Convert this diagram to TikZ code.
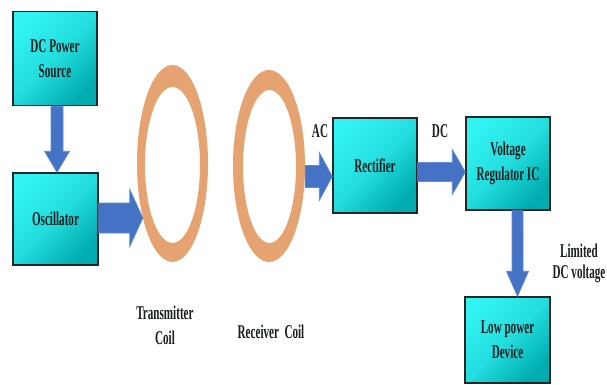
\documentclass[tikz,border=0pt]{standalone}
\usepackage{fontspec}
\setmainfont{Liberation Serif}[FakeStretch=0.57]
\usetikzlibrary{calc,shapes.geometric}
\definecolor{boxlight}{RGB}{50,242,242}
\definecolor{boxdark}{RGB}{0,172,175}
\definecolor{arrowfill}{RGB}{68,114,196}
\definecolor{arrowedge}{RGB}{95,140,210}
\definecolor{coilcol}{RGB}{228,163,112}
\definecolor{txtcol}{RGB}{25,30,30}
\tikzset{
  blockbox/.style={draw=black!85, line width=1.5pt, top color=boxlight, bottom color=boxdark,
    middle color=boxlight!70!boxdark, shading angle=45, inner sep=0pt,
    font=\fontsize{19.5}{25}\selectfont\bfseries, text=txtcol, align=center},
  blockarrow/.style={fill=arrowfill, draw=arrowedge, line width=0.8pt, line join=miter},
  coilring/.style={fill=coilcol, even odd rule},
  lbl/.style={font=\fontsize{19.5}{25}\selectfont\bfseries, text=txtcol, align=center, inner sep=0pt},
  coilnode/.style={ellipse, inner sep=0pt}
}
\newcommand\harrowshape[5]{\filldraw[blockarrow] let \p1=(#1),\p2=(#2) in
  (\x1,\y1+#3) -- (\x2-#5,\y1+#3) -- (\x2-#5,\y1+#4) -- (\x2,\y1) --
  (\x2-#5,\y1-#4) -- (\x2-#5,\y1-#3) -- (\x1,\y1-#3) -- cycle;}
\newcommand\varrowshape[5]{\filldraw[blockarrow] let \p1=(#1),\p2=(#2) in
  (\x1+#3,\y1) -- (\x1+#3,\y2+#5) -- (\x1+#4,\y2+#5) -- (\x1,\y2) --
  (\x1-#4,\y2+#5) -- (\x1-#3,\y2+#5) -- (\x1-#3,\y1) -- cycle;}
\begin{document}
\begin{tikzpicture}[x=1pt,y=-1pt]
\useasboundingbox[fill=white] (0,0) rectangle (607,385);
% boxes
\node[blockbox, minimum width=84pt, minimum height=94pt] (dc) at (55,58.5) {DC Power\\Source};
\node[blockbox, minimum width=85pt, minimum height=92pt] (osc) at (55.5,219) {Oscillator};
\node[blockbox, minimum width=84pt, minimum height=95pt] (rect) at (375,165.5) {Rectifier};
\node[blockbox, minimum width=84pt, minimum height=93pt] (reg) at (508,163.5) {Voltage\\Regulator IC};
\node[blockbox, minimum width=85pt, minimum height=86pt] (low) at (507.5,340) {Low power\\Device};
% coils
\node[coilnode, minimum width=71pt, minimum height=197pt] (tx) at (172.5,163.5) {};
\node[coilnode, minimum width=72pt, minimum height=192pt] (rx) at (269,166) {};
\fill[coilring] (tx.center) ellipse [x radius=35.5, y radius=98.5]
  (172.5,165) ellipse [x radius=27.5, y radius=78];
\fill[coilring] (rx.center) ellipse [x radius=36, y radius=96]
  (269.5,166.5) ellipse [x radius=26.5, y radius=76.5];
% arrows
\varrowshape{$(dc.south)+(2,0)$}{$(osc.north)+(2,0)$}{6pt}{12.5pt}{21pt}
\harrowshape{$(osc.east)+(0,-1)$}{$(tx.west)+(6,0)$}{15pt}{28.5pt}{13pt}
\harrowshape{$(rx.east)+(0,10.5)$}{$(rect.west)+(0,10.5)$}{11pt}{24pt}{13pt}
\harrowshape{$(rect.east)+(0,6.5)$}{reg.west}{9.5pt}{22.5pt}{13pt}
\varrowshape{$(reg.south)+(9.5,0)$}{$(low.north)+(9.5,0)$}{5.5pt}{11pt}{25pt}
% labels
\node[lbl] (ac) at (320,131) {AC};
\node[lbl] (dcl) at (440,131) {DC};
\node[lbl] (txl) at (165,325) {Transmitter\\Coil};
\node[lbl] (rxl) at (271,332) {Receiver\ \ Coil};
\node[lbl, font=\fontsize{19.5}{21}\selectfont\bfseries] (lim) at (579,263.5) {Limited\\DC voltage};
\end{tikzpicture}
\end{document}
